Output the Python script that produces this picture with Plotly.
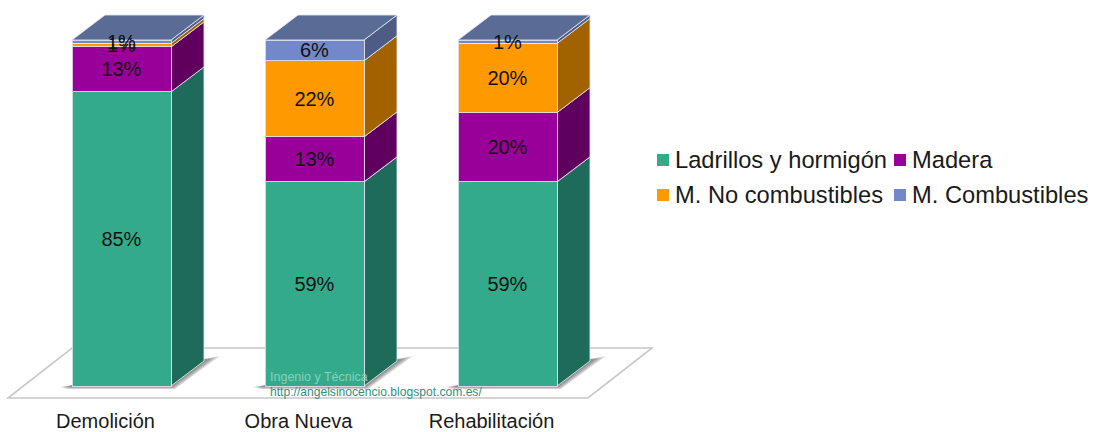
import plotly.graph_objects as go

# Composition of construction waste by site type (%)
categories = ["Demolición", "Obra Nueva", "Rehabilitación"]
series_names = ["Ladrillos y hormigón", "Madera", "M. No combustibles", "M. Combustibles"]
ladrillos = [85, 59, 59]
madera = [13, 13, 20]
no_combustibles = [1, 22, 20]
combustibles = [1, 6, 1]
series_values = [ladrillos, madera, no_combustibles, combustibles]

front_colors = ["#33AB8A", "#990099", "#FF9900", "#7288C8"]
side_colors = ["#1F6B5A", "#5F005F", "#A36200", "#4E5C85"]
top_color = "#5A6B96"
edge_color = "rgba(226,230,245,0.85)"
floor_color = "#C8C8C8"

WIDTH, HEIGHT = 1097, 432
BOTTOM_MARGIN = 30
PLOT_H = HEIGHT - BOTTOM_MARGIN

# Scales: pixels per unit on each axis, and where the origin sits
PX_PER_CAT = 193.0
PX_PER_PCT = 3.46
ORIGIN_X = 121.5
ORIGIN_Y = 386.0

px_dx = lambda p: p / PX_PER_CAT
px_dy = lambda p: p / PX_PER_PCT

x_range = [-ORIGIN_X / PX_PER_CAT, (WIDTH - ORIGIN_X) / PX_PER_CAT]
y_range = [(ORIGIN_Y - PLOT_H) / PX_PER_PCT, ORIGIN_Y / PX_PER_PCT]

positions = list(range(len(categories)))
bar_width = px_dx(99)
depth_x = px_dx(33)
depth_y = px_dy(25)


def polygon(points, fill, line=None, width=0):
    path = "M " + " L ".join(f"{x:.4f},{y:.4f}" for x, y in points) + " Z"
    return dict(
        type="path", path=path, xref="x", yref="y", layer="below",
        fillcolor=fill, line=dict(color=line or "rgba(0,0,0,0)", width=width),
    )


shapes = []

# Floor of the 3D scene
floor_left, floor_right = px_dx(8) - ORIGIN_X / PX_PER_CAT, px_dx(588) - ORIGIN_X / PX_PER_CAT
floor_front, floor_depth_x, floor_depth_y = px_dy(-12), px_dx(64), px_dy(50)
shapes.append(polygon(
    [
        (floor_left, floor_front),
        (floor_right, floor_front),
        (floor_right + floor_depth_x, floor_front + floor_depth_y),
        (floor_left + floor_depth_x, floor_front + floor_depth_y),
    ],
    "#FFFFFF", floor_color, 1.6,
))

# Soft shadows: stacked translucent layers that widen outwards
for pos in positions:
    x0, x1 = pos - bar_width / 2, pos + bar_width / 2
    for grow in (1.0, 0.8, 0.6, 0.4, 0.2):
        shapes.append(polygon(
            [
                (x0 - px_dx(12 * grow), px_dy(-1)),
                (x0 - px_dx(4 * grow), px_dy(-3 * grow)),
                (x1 + px_dx(4 * grow), px_dy(-3 * grow)),
                (x1 + depth_x + px_dx(16 * grow), depth_y + px_dy(5 * grow)),
                (x1 + depth_x, depth_y + px_dy(2)),
                (x1, px_dy(1)),
                (x0, px_dy(1)),
            ],
            "rgba(80,80,80,0.19)",
        ))

# Side faces of every stacked segment, and the top lid of every column
for i, pos in enumerate(positions):
    x1 = pos + bar_width / 2
    x0 = pos - bar_width / 2
    base = 0
    for values, side in zip(series_values, side_colors):
        top = base + values[i]
        shapes.append(polygon(
            [
                (x1, base),
                (x1 + depth_x, base + depth_y),
                (x1 + depth_x, top + depth_y),
                (x1, top),
            ],
            side, edge_color, 1,
        ))
        base = top
    shapes.append(polygon(
        [
            (x0, base),
            (x0 + depth_x, base + depth_y),
            (x1 + depth_x, base + depth_y),
            (x1, base),
        ],
        top_color, edge_color, 1,
    ))

fig = go.Figure()
for name, values, color in zip(series_names, series_values, front_colors):
    fig.add_trace(go.Bar(
        x=positions,
        y=values,
        name=name,
        width=bar_width,
        marker=dict(color=color, line=dict(color=edge_color, width=1)),
        text=[f"{v}%" for v in values],
        textposition="inside",
        insidetextanchor="middle",
        textangle=0,
        constraintext="none",
        insidetextfont=dict(family="Liberation Sans", size=20, color="#111111"),
        showlegend=False,
        hoverinfo="name+y",
    ))

# Two-column legend placed to the right of the columns
paper_x = lambda p: p / WIDTH
paper_y = lambda p: (PLOT_H - p) / PLOT_H
legend_slots = [(657, 160), (894, 160), (657, 195), (894, 195)]
annotations = []
for name, color, (sx, sy) in zip(series_names, front_colors, legend_slots):
    shapes.append(dict(
        type="rect", xref="paper", yref="paper",
        x0=paper_x(sx), x1=paper_x(sx + 12),
        y0=paper_y(sy + 6), y1=paper_y(sy - 6),
        fillcolor=color, line=dict(width=0),
    ))
    annotations.append(dict(
        xref="paper", yref="paper", x=paper_x(sx + 17), y=paper_y(sy),
        text=name, showarrow=False, xanchor="left", yanchor="middle",
        borderpad=0,
        font=dict(family="Liberation Sans", size=23.7, color="#1A1A1A"),
    ))

# Blog credit over the middle column
annotations.append(dict(
    xref="paper", yref="paper", x=paper_x(269), y=paper_y(377),
    text="Ingenio y Técnica", showarrow=False, xanchor="left", yanchor="middle",
    borderpad=0, font=dict(family="Liberation Sans", size=12.5, color="#86D0BC"),
))
annotations.append(dict(
    xref="paper", yref="paper", x=paper_x(269), y=paper_y(392),
    text="http://angelsinocencio.blogspot.com.es/", showarrow=False,
    xanchor="left", yanchor="middle", borderpad=0,
    font=dict(family="Liberation Sans", size=12.1, color="#2F917A"),
))

fig.update_layout(
    width=WIDTH,
    height=HEIGHT,
    autosize=False,
    barmode="stack",
    showlegend=False,
    paper_bgcolor="white",
    plot_bgcolor="white",
    margin=dict(l=0, r=0, t=0, b=BOTTOM_MARGIN, pad=0, autoexpand=False),
    shapes=shapes,
    annotations=annotations,
    xaxis=dict(
        range=x_range,
        automargin=False,
        tickmode="array",
        tickvals=[p - px_dx(16) for p in positions],
        ticktext=categories,
        ticks="outside",
        ticklen=1,
        tickcolor="rgba(0,0,0,0)",
        tickfont=dict(family="Liberation Sans", size=20, color="#1A1A1A"),
        showgrid=False,
        zeroline=False,
        showline=False,
    ),
    yaxis=dict(
        range=y_range,
        visible=False,
        showgrid=False,
        zeroline=False,
    ),
)

fig.write_html("out.html", config=dict(displayModeBar=False))
